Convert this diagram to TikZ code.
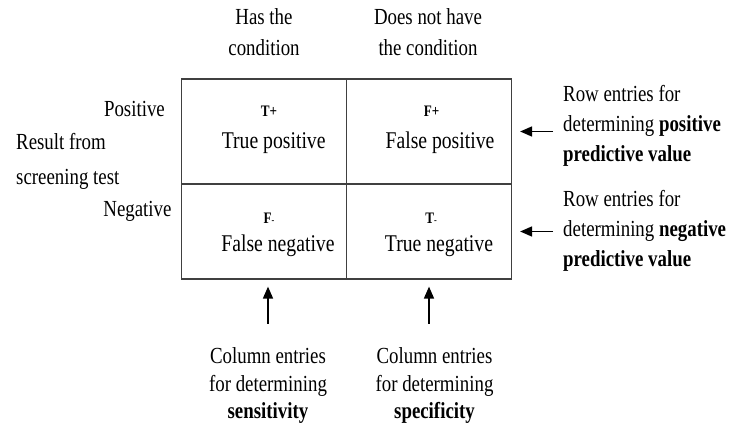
\documentclass[tikz,border=0pt]{standalone}
\usepackage{fontspec}
\setmainfont{Liberation Serif}[FakeStretch=0.82]
\usetikzlibrary{arrows.meta}

\begin{document}
\begin{tikzpicture}[x=1pt, y=-1pt, >={Triangle[length=12pt,width=10pt]},
  every node/.style={inner sep=0pt, font=\fontsize{23}{30}\selectfont},
  cell/.style={draw=black!75, line width=1.2pt, rectangle, minimum width=165pt},
  celltext/.style={anchor=base, font=\fontsize{24}{30}\selectfont},
  tag/.style={anchor=base, font=\fontsize{16}{18}\selectfont\bfseries},
  note/.style={align=left, anchor=west}]
  \useasboundingbox (0,0) rectangle (734,425);

  % the 2x2 table
  \node (tp) at (264,131.5) [cell, minimum height=105pt] {};
  \node (fp) at (429,131.5) [cell, minimum height=105pt] {};
  \node (fn) at (264,231.5) [cell, minimum height=95pt] {};
  \node (tn) at (429,231.5) [cell, minimum height=95pt] {};

  \node (tptag) at (269,116.7) [tag] {T+};
  \node (tplabel) at (273.7,148.3) [celltext] {True positive};
  \node (fptag) at (431.7,116.7) [tag] {F+};
  \node (fplabel) at (440,148.3) [celltext] {False positive};
  \node (fntag) at (269,223.3) [tag] {F{\fontsize{10}{10}\selectfont -}};
  \node (fnlabel) at (278,251.7) [celltext] {False negative};
  \node (tntag) at (431,223.3) [tag] {T{\fontsize{10}{10}\selectfont -}};
  \node (tnlabel) at (439,251.7) [celltext] {True negative};

  % headers
  \node (hascond) at (264,32.4) [align=center] {Has the\\[1pt]condition};
  \node (notcond) at (428,32.4) [align=center] {Does not have\\[1pt]the condition};
  \node (pos) at (165,116.7) [anchor=base east] {Positive};
  \node (result) at (16,161) [note] {Result from\\[5pt]screening test};
  \node (neg) at (171.7,216.7) [anchor=base east] {Negative};

  % right side notes
  \node (ppv) at (563,125.5) [note] {Row entries for\\determining \textbf{positive}\\\textbf{predictive value}};
  \node (npv) at (563,231) [note] {Row entries for\\determining \textbf{negative}\\\textbf{predictive value}};

  % bottom notes
  \node (sens) at (268,386) [align=center, font=\fontsize{23}{27.5}\selectfont] {Column entries\\for determining\\\textbf{sensitivity}};
  \node (spec) at (434.5,386) [align=center, font=\fontsize{23}{27.5}\selectfont] {Column entries\\for determining\\\textbf{specificity}};

  \draw[->, line width=1.6pt, shorten <=10pt, shorten >=8pt] (ppv.west |- fp.east) -- (fp.east);
  \draw[->, line width=1.6pt, shorten <=10pt, shorten >=8pt] (npv.west |- tn.east) -- (tn.east);
  \draw[->, line width=1.6pt, shorten <=24pt, shorten >=7pt] (sens.north) -- (sens.north |- fn.south);
  \draw[->, line width=1.6pt, shorten <=24pt, shorten >=7pt] (spec.north -| tn.south) -- (tn.south);
\end{tikzpicture}
\end{document}
